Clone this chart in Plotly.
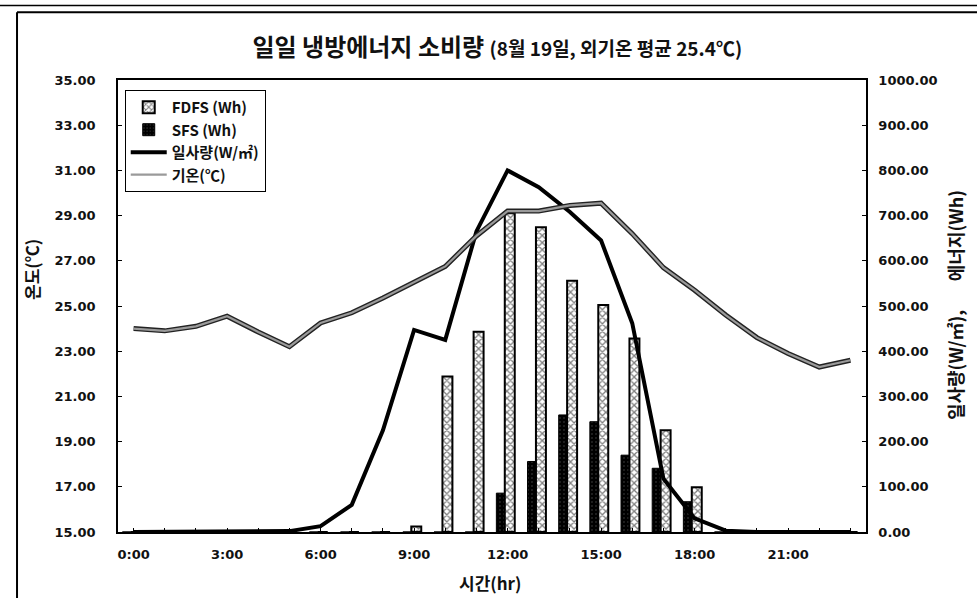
import plotly.graph_objects as go

hours = list(range(24))
tick_hours = [0, 3, 6, 9, 12, 15, 18, 21]
tick_labels = ["0:00", "3:00", "6:00", "9:00", "12:00", "15:00", "18:00", "21:00"]

temperature = [24.0, 23.9, 24.1, 24.55, 23.85, 23.2, 24.25, 24.7, 25.35, 26.05, 26.75, 28.1,
               29.2, 29.2, 29.45, 29.55, 28.2, 26.7, 25.7, 24.6, 23.6, 22.9, 22.3, 22.6]
solar = [0, 0, 0, 0, 0, 2, 13, 60, 225, 447, 425, 665,
         800, 763, 708, 645, 462, 118, 30, 3, 0, 0, 0, 0]
fdfs = [0, 0, 0, 0, 0, 0, 0, 0, 0, 12, 344, 443,
        705, 674, 556, 502, 428, 225, 99, 0, 0, 0, 0, 0]
sfs = [0, 0, 0, 0, 0, 0, 0, 0, 0, 0, 0, 0,
       86, 156, 259, 244, 170, 141, 67, 0, 0, 0, 0, 0]

TFONT = "DejaVu Sans, sans-serif"
KFONT = "Noto Sans CJK KR, DejaVu Sans, sans-serif"
INK = "#111111"

fig = go.Figure()

fig.add_trace(go.Bar(
    x=hours, y=sfs, name="SFS (Wh)", yaxis="y",
    offset=-0.36, width=0.32,
    marker=dict(color="black", line=dict(color="black", width=1),
                pattern=dict(shape=".", fgcolor="#aaaaaa", size=4, solidity=0.08)),
    legendrank=2,
))
fig.add_trace(go.Bar(
    x=hours, y=fdfs, name="FDFS (Wh)", yaxis="y",
    offset=-0.09, width=0.32,
    marker=dict(color="white", line=dict(color="black", width=2),
                pattern=dict(shape="x", fgcolor="black", bgcolor="white", size=5, solidity=0.45)),
    legendrank=1,
))
fig.add_trace(go.Scatter(
    x=hours, y=solar, name="일사량(W/㎡)", yaxis="y", mode="lines",
    line=dict(color="black", width=4), legendrank=3,
))
fig.add_trace(go.Scatter(
    x=hours, y=temperature, yaxis="y2", mode="lines", showlegend=False,
    line=dict(color="#222222", width=5), hoverinfo="skip", legendgroup="t",
))
fig.add_trace(go.Scatter(
    x=hours, y=temperature, name="기온(℃)", yaxis="y2", mode="lines",
    line=dict(color="#9a9a9a", width=2.2), legendrank=4, legendgroup="t",
))

fig.update_layout(
    width=977, height=598,
    margin=dict(l=118, r=111, t=80, b=66),
    paper_bgcolor="white", plot_bgcolor="white",
    barmode="overlay",
    font=dict(family=TFONT, size=13, color=INK),
    title=dict(
        text="<b>일일 냉방에너지 소비량</b> <span style='font-size:19px;font-weight:bold'>(8월 19일, 외기온 평균 25.4℃)</span>",
        x=0.509, xanchor="center", y=0.92, yanchor="middle",
        font=dict(family=KFONT, size=24, color=INK),
    ),
    xaxis=dict(
        range=[-0.5, 23.5], tickmode="array", tickvals=tick_hours, ticktext=tick_labels,
        ticks="", showline=True, linecolor="black", linewidth=1.5, mirror=True,
        showgrid=False, zeroline=False,
        tickfont=dict(family=TFONT, size=13, color=INK, weight="bold"),
        ticklabelstandoff=10,
        minor=dict(ticks="inside", ticklen=4, tickcolor="black", dtick=1, tick0=0, showgrid=False),
    ),
    yaxis=dict(
        side="right", range=[0, 1000], tick0=0, dtick=100, tickformat=".2f",
        ticks="inside", ticklen=4, tickcolor="black",
        showline=True, linecolor="black", linewidth=1.5,
        showgrid=False, zeroline=False,
        tickfont=dict(family=TFONT, size=13, color=INK, weight="bold"),
        ticklabelstandoff=8,
    ),
    yaxis2=dict(
        overlaying="y", side="left", range=[15, 35], tick0=15, dtick=2, tickformat=".2f",
        ticks="inside", ticklen=4, tickcolor="black",
        showline=True, linecolor="black", linewidth=1.5,
        showgrid=False, zeroline=False,
        tickfont=dict(family=TFONT, size=13, color=INK, weight="bold"),
        ticklabelstandoff=18,
    ),
    legend=dict(
        x=0.009, y=0.978, xanchor="left", yanchor="top",
        bgcolor="white", bordercolor="black", borderwidth=1,
        font=dict(family=KFONT, size=15, color=INK, weight="bold"),
        tracegroupgap=0, itemwidth=36,
    ),
    showlegend=True,
)

# axis titles as annotations
fig.add_annotation(text="<b>시간(hr)</b>", xref="paper", yref="paper", x=0.497, y=-0.111,
                   xanchor="center", yanchor="middle",
                   showarrow=False, font=dict(family=KFONT, size=17, color=INK))
fig.add_annotation(text="<b>온도(℃)</b>", xref="paper", yref="paper", x=-0.115, y=0.582,
                   xanchor="center", yanchor="middle",
                   textangle=-90, showarrow=False, font=dict(family=KFONT, size=17, color=INK))
fig.add_annotation(text="<b>일사량(W/㎡),&nbsp;&nbsp;&nbsp;&nbsp;&nbsp;&nbsp; 에너지(Wh)</b>",
                   xref="paper", yref="paper", x=1.119, y=0.502,
                   xanchor="center", yanchor="middle",
                   textangle=-90, showarrow=False, font=dict(family=KFONT, size=18, color=INK))

fig.add_shape(type="line", xref="paper", yref="paper", x0=-0.135, x1=-0.135, y0=-0.15, y1=1.15,
              line=dict(color="black", width=2))
fig.add_shape(type="line", xref="paper", yref="paper", x0=-0.135, x1=1.16, y0=1.15, y1=1.15,
              line=dict(color="black", width=2))
fig.add_shape(type="line", xref="paper", yref="paper", x0=-0.16, x1=1.16, y0=1.165, y1=1.165,
              line=dict(color="black", width=1.5))

fig.write_html("out.html")
